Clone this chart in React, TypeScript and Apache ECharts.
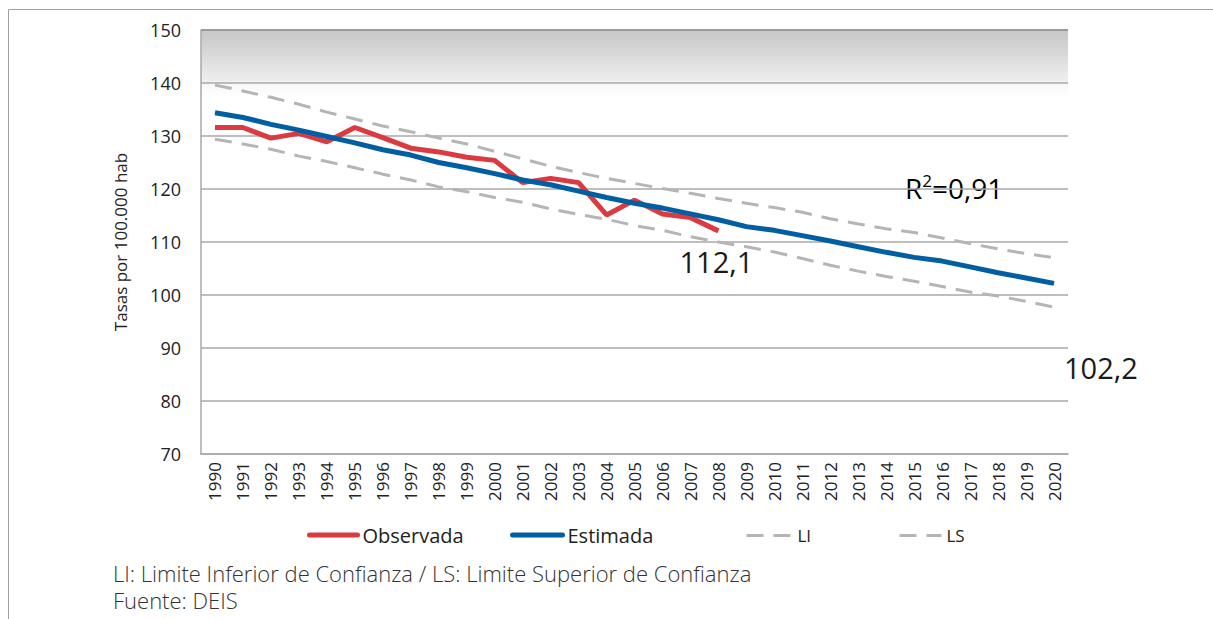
import React, { useEffect, useRef } from "react";
import * as echarts from "echarts";

const years = [
  "1990", "1991", "1992", "1993", "1994", "1995", "1996", "1997", "1998", "1999",
  "2000", "2001", "2002", "2003", "2004", "2005", "2006", "2007", "2008", "2009",
  "2010", "2011", "2012", "2013", "2014", "2015", "2016", "2017", "2018", "2019", "2020",
];

const observada = [
  131.6, 131.6, 129.6, 130.5, 128.9, 131.6, 129.7, 127.7, 127.0, 126.0,
  125.4, 121.2, 122.0, 121.2, 115.1, 117.9, 115.3, 114.6, 112.1,
];

const estimada = [
  134.4, 133.5, 132.2, 131.1, 129.9, 128.7, 127.4, 126.4, 125.0, 124.0,
  122.9, 121.7, 120.8, 119.6, 118.4, 117.3, 116.4, 115.3, 114.2, 112.9,
  112.2, 111.2, 110.2, 109.1, 108.05, 107.1, 106.4, 105.3, 104.2, 103.2, 102.2,
];

const li = [
  129.4, 128.5, 127.5, 126.2, 125.2, 124.0, 122.8, 121.7, 120.4, 119.5,
  118.4, 117.5, 116.25, 115.2, 114.3, 113.1, 112.2, 111.0, 110.0, 109.1,
  108.1, 106.9, 105.6, 104.5, 103.5, 102.6, 101.6, 100.55, 99.8, 98.8, 97.7,
];

const ls = [
  139.6, 138.5, 137.3, 136.0, 134.5, 133.2, 131.9, 130.8, 129.6, 128.5,
  127.1, 125.7, 124.3, 123.1, 122.0, 121.05, 120.1, 119.2, 118.2, 117.3,
  116.5, 115.6, 114.4, 113.4, 112.5, 111.8, 110.75, 109.7, 108.7, 107.8, 107.05,
];

const yTicks = { min: 70, max: 150, interval: 10 };
const lastObsLabel = "112,1";
const lastEstLabel = "102,2";
const r2Label = "0,91";
const footnote1 = "LI: Limite Inferior de Confianza / LS: Limite Superior de Confianza";
const footnote2 = "Fuente: DEIS";

const FONT = "'Open Sans', 'Noto Sans', sans-serif";
const RED = "#dc3a40";
const BLUE = "#005ea2";
const GRAY = "#b5b5b5";
const GRID = "#a8a8a8";

export default function App() {
  const ref = useRef<HTMLDivElement>(null);

  useEffect(() => {
    document.body.style.margin = "0";
    if (!ref.current) return;
    const chart = echarts.init(ref.current, undefined, { renderer: "svg" });

    const lastObs = observada.length - 1;
    const lastEst = estimada.length - 1;

    const legendBase = {
      orient: "horizontal",
      itemHeight: 14,
      itemGap: 0,
      selectedMode: false,
      itemStyle: { opacity: 0 },
      textStyle: { fontSize: 20, color: "#222", fontFamily: FONT },
    };

    chart.setOption({
      animation: false,
      backgroundColor: "#ffffff",
      textStyle: { fontFamily: FONT },
      grid: {
        left: 201,
        top: 30,
        right: 145,
        bottom: 165,
        show: true,
        borderWidth: 0,
        backgroundColor: new echarts.graphic.LinearGradient(0, 0, 0, 1, [
          { offset: 0, color: "#c6c6c6" },
          { offset: 0.122, color: "#efefef" },
          { offset: 0.125, color: "#f7f7f7" },
          { offset: 0.16, color: "#ffffff" },
          { offset: 1, color: "#ffffff" },
        ]),
      },
      legend: [
        {
          ...legendBase,
          left: 302,
          top: 520,
          itemWidth: 48,
          lineStyle: { width: 5, cap: "round" },
          data: ["Observada"],
        },
        {
          ...legendBase,
          left: 505,
          top: 520,
          itemWidth: 50,
          lineStyle: { width: 5, cap: "round" },
          data: ["Estimada"],
        },
        {
          ...legendBase,
          left: 740,
          top: 522,
          itemWidth: 46,
          lineStyle: { width: 3 },
          data: ["LI"],
          textStyle: { fontSize: 17, color: "#222", fontFamily: FONT },
        },
        {
          ...legendBase,
          left: 893,
          top: 522,
          itemWidth: 42,
          lineStyle: { width: 3 },
          data: ["LS"],
          textStyle: { fontSize: 17, color: "#222", fontFamily: FONT },
        },
      ],
      xAxis: {
        type: "category",
        data: years,
        boundaryGap: true,
        axisLine: { show: true, lineStyle: { color: GRID, width: 1.5 } },
        axisTick: { show: false },
        axisLabel: {
          rotate: 90,
          interval: 0,
          fontSize: 17,
          color: "#222",
          margin: 8,
          fontFamily: FONT,
        },
        splitLine: { show: false },
      },
      yAxis: {
        type: "value",
        min: yTicks.min,
        max: yTicks.max,
        interval: yTicks.interval,
        name: "Tasas por 100.000 hab",
        nameLocation: "middle",
        nameGap: 72,
        nameRotate: 90,
        nameTextStyle: { fontSize: 17, color: "#222", fontFamily: FONT },
        axisLine: { show: true, lineStyle: { color: GRID, width: 1.5 } },
        axisTick: { show: false },
        axisLabel: { fontSize: 18, color: "#222", margin: 20, fontFamily: FONT },
        splitLine: { show: true, lineStyle: { color: GRID, width: 1.5 } },
      },
      series: [
        {
          name: "LI",
          type: "line",
          data: li,
          symbol: "none",
          lineStyle: { color: GRAY, width: 3, type: [17, 10] },
          itemStyle: { color: GRAY },
          z: 2,
        },
        {
          name: "LS",
          type: "line",
          data: ls,
          symbol: "none",
          lineStyle: { color: GRAY, width: 3, type: [17, 10] },
          itemStyle: { color: GRAY },
          z: 2,
        },
        {
          name: "Observada",
          type: "line",
          data: observada,
          symbol: "none",
          lineStyle: { color: RED, width: 5 },
          itemStyle: { color: RED },
          z: 3,
          markPoint: {
            silent: true,
            symbol: "circle",
            symbolSize: 0,
            data: [
              {
                coord: [years[lastObs], observada[lastObs]],
                label: {
                  show: true,
                  formatter: lastObsLabel,
                  position: "bottom",
                  distance: 16,
                  offset: [-2, 0],
                  fontSize: 29,
                  color: "#1a1a1a",
                  fontFamily: FONT,
                },
              },
            ],
          },
        },
        {
          name: "Estimada",
          type: "line",
          data: estimada,
          symbol: "none",
          lineStyle: { color: BLUE, width: 5 },
          itemStyle: { color: BLUE },
          z: 4,
          markPoint: {
            silent: true,
            symbol: "circle",
            symbolSize: 0,
            data: [
              {
                coord: [years[lastEst], estimada[lastEst]],
                label: {
                  show: true,
                  formatter: lastEstLabel,
                  position: "right",
                  distance: 10,
                  offset: [0, 84],
                  fontSize: 29,
                  color: "#1a1a1a",
                  fontFamily: FONT,
                },
              },
            ],
          },
          markLine: {
            silent: true,
            symbol: "none",
            label: { show: false },
            lineStyle: { color: "#9c9c9c", width: 2, type: "solid" },
            data: [{ yAxis: yTicks.max }],
          },
        },
      ],
      graphic: [
        {
          type: "line",
          shape: { x1: 8.5, y1: 9.5, x2: 1213, y2: 9.5 },
          style: { stroke: "#a0a0a0", lineWidth: 1 },
          silent: true,
        },
        {
          type: "line",
          shape: { x1: 8.5, y1: 9.5, x2: 8.5, y2: 619 },
          style: { stroke: "#a0a0a0", lineWidth: 1 },
          silent: true,
        },
        {
          type: "text",
          left: 905,
          top: 172,
          style: {
            text: "{a|R}{b|2}{a|=" + r2Label + "}",
            rich: {
              a: { fontSize: 28, lineHeight: 32, color: "#1a1a1a", fontFamily: FONT },
              b: {
                fontSize: 17,
                lineHeight: 17,
                verticalAlign: "top",
                color: "#1a1a1a",
                fontFamily: FONT,
              },
            },
          },
          silent: true,
        },
        {
          type: "text",
          left: 113,
          top: 562,
          style: {
            text: footnote1,
            fontSize: 22,
            fontWeight: 300,
            fill: "#333",
            fontFamily: FONT,
          },
          silent: true,
        },
        {
          type: "text",
          left: 113,
          top: 589,
          style: {
            text: footnote2,
            fontSize: 22,
            fontWeight: 300,
            fill: "#333",
            fontFamily: FONT,
          },
          silent: true,
        },
      ],
    });

    return () => {
      chart.dispose();
    };
  }, []);

  return <div ref={ref} style={{ width: 1213, height: 619 }} />;
}
